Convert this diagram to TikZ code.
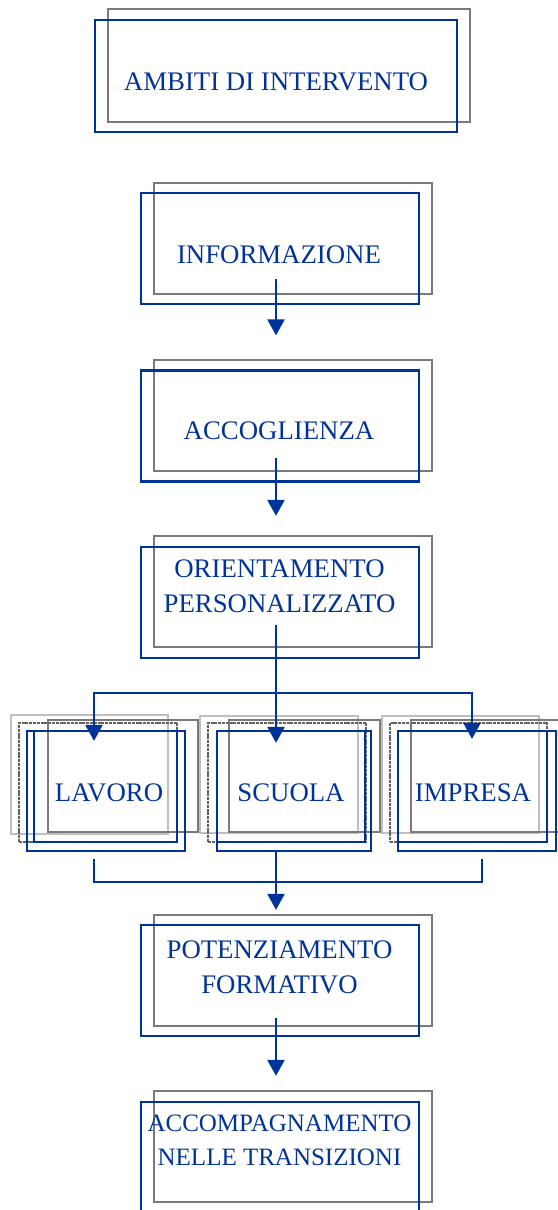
\documentclass[tikz,border=0pt]{standalone}
\usepackage{fontspec}
\setmainfont{Liberation Serif}
\usetikzlibrary{arrows.meta}

\definecolor{ambblue}{RGB}{0,51,153}

\begin{document}
\begin{tikzpicture}[x=1pt, y=-1pt,
        % Styles
        bluebox/.style={rectangle, draw=ambblue, line width=2.2pt, inner sep=0pt},
        greybox/.style={rectangle, draw=black!52, line width=2pt, inner sep=0pt},
        lightbox/.style={rectangle, draw=black!25, line width=2pt, inner sep=0pt},
        dotbox/.style={rectangle, draw=black!62, line width=1.6pt, inner sep=0pt, dash pattern=on 3pt off 0.8pt},
        mainbox/.style={bluebox, minimum width=278pt, minimum height=111pt},
        mainshadow/.style={greybox, minimum width=278pt, minimum height=111pt},
        boxtext/.style={text=ambblue, font=\fontsize{26.8}{35}\selectfont, align=center, inner sep=0pt},
        line/.style={draw=ambblue, line width=2.2pt, -{Triangle[width=17pt,length=16pt]}},
        plainline/.style={draw=ambblue, line width=2.2pt}
    ]
    \useasboundingbox (0,0) rectangle (557,1210);

    % Ambiti di intervento
    \node [greybox, minimum width=362pt, minimum height=113pt] (ambitishadow) at (289,65.5) {};
    \node [bluebox, minimum width=362pt, minimum height=112pt] (ambiti) at (276,76) {};
    \node [boxtext] (ambititxt) at (276,82) {AMBITI DI INTERVENTO};

    % Informazione
    \node [mainshadow] (infoshadow) at (293,238.5) {};
    \node [mainbox] (info) at (280,248.5) {};
    \node [boxtext] (infotxt) at (279,255) {INFORMAZIONE};

    % Accoglienza
    \node [mainshadow] (accogshadow) at (293,415) {};
    \node [mainbox] (accog) at (280,426) {};
    \node [boxtext] (accogtxt) at (279,431) {ACCOGLIENZA};

    % Orientamento personalizzato
    \node [mainshadow] (orientshadow) at (293,591.5) {};
    \node [mainbox] (orient) at (280,602.5) {};
    \node [boxtext] (orienttxt) at (279.5,586) {ORIENTAMENTO\\PERSONALIZZATO};

    % Lavoro
    \node [lightbox, minimum width=157pt, minimum height=119pt] (lavorolight) at (89.5,774.5) {};
    \node [dotbox, minimum width=158pt, minimum height=119pt] (lavorodot) at (98,782.5) {};
    \node [greybox, minimum width=150pt, minimum height=112pt] (lavorogrey) at (123,776) {};
    \node [bluebox, minimum width=143pt, minimum height=111pt] (lavoroinner) at (105.5,786.5) {};
    \node [bluebox, minimum width=158pt, minimum height=120pt] (lavoro) at (106,791) {};
    \node [boxtext] (lavorotxt) at (109,793) {LAVORO};

    % Scuola
    \node [lightbox, minimum width=158pt, minimum height=117pt] (scuolalight) at (279,774.5) {};
    \node [dotbox, minimum width=158pt, minimum height=119pt] (scuoladot) at (287,782.5) {};
    \node [greybox, minimum width=151pt, minimum height=112pt] (scuolagrey) at (304.5,776) {};
    \node [bluebox, minimum width=148pt, minimum height=111pt] (scuolainner) at (291,786.5) {};
    \node [bluebox, minimum width=154pt, minimum height=120pt] (scuola) at (294,791) {};
    \node [boxtext] (scuolatxt) at (291,793) {SCUOLA};

    % Impresa
    \node [lightbox, minimum width=157pt, minimum height=117pt] (impresalight) at (460.5,774.5) {};
    \node [dotbox, minimum width=157pt, minimum height=119pt] (impresadot) at (468.5,782.5) {};
    \node [greybox, minimum width=149pt, minimum height=112pt] (impresagrey) at (485.5,776) {};
    \node [bluebox, minimum width=149pt, minimum height=111pt] (impresainner) at (472.5,786.5) {};
    \node [bluebox, minimum width=158pt, minimum height=120pt] (impresa) at (477,791) {};
    \node [boxtext] (impresatxt) at (473,793) {IMPRESA};

    % Potenziamento formativo
    \node [mainshadow] (potenzshadow) at (293,970) {};
    \node [mainbox] (potenz) at (280,980.5) {};
    \node [boxtext] (potenztxt) at (279.5,967.5) {POTENZIAMENTO\\FORMATIVO};

    % Accompagnamento
    \node [mainshadow] (accompshadow) at (293,1146.5) {};
    \node [mainbox] (accomp) at (280,1157.5) {};
    \node [boxtext, font=\fontsize{25}{34}\selectfont] (accomptxt) at (279.5,1140) {ACCOMPAGNAMENTO\\NELLE TRANSIZIONI};

    % Edges
    \draw [line] ([xshift=-4pt,yshift=26pt]info.south) -- ([xshift=-4pt,yshift=34pt]accog.north);
    \draw [line] ([xshift=-4pt,yshift=25pt]accog.south) -- ([xshift=-4pt,yshift=30pt]orient.north);
    \coordinate (split) at (276,693);
    \draw [plainline] ([xshift=-4pt,yshift=34pt]orient.south) -- (split);
    \draw [line] (split) -- ([xshift=-18pt,yshift=-13pt]scuola.north);
    \draw [line] (split) -| ([xshift=-12pt,yshift=-11pt]lavoro.north);
    \draw [line] (split) -| ([xshift=-5pt,yshift=-9pt]impresa.north);
    \coordinate (merge) at (276,882);
    \draw [plainline] ([xshift=-12pt,yshift=-7pt]lavoro.south) |- (merge) -| ([xshift=5pt,yshift=-7pt]impresa.south);
    \draw [line] ([xshift=-18pt]scuola.south) -- ([xshift=-4pt,yshift=14pt]potenz.north);
    \draw [line] ([xshift=-4pt,yshift=19pt]potenz.south) -- ([xshift=-4pt,yshift=25pt]accomp.north);

\end{tikzpicture}
\end{document}
